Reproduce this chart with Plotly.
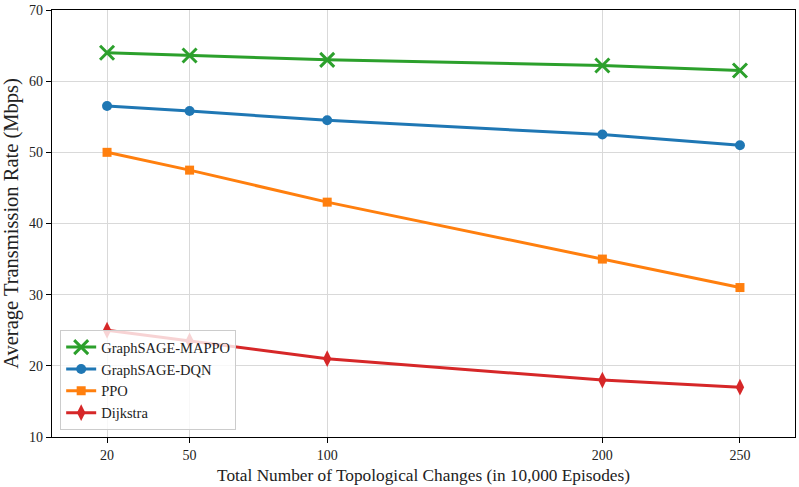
import plotly.graph_objects as go

x_vals = [20, 50, 100, 200, 250]
mappo = [64.0, 63.6, 63.0, 62.2, 61.5]
dqn = [56.5, 55.8, 54.5, 52.5, 51.0]
ppo = [50.0, 47.5, 43.0, 35.0, 31.0]
dijkstra = [25.0, 23.5, 21.0, 18.0, 17.0]
y_ticks = [10, 20, 30, 40, 50, 60, 70]

series = [
    ("GraphSAGE-MAPPO", mappo, "#2ca02c", "x-thin", 14),
    ("GraphSAGE-DQN", dqn, "#1f77b4", "circle", 10),
    ("PPO", ppo, "#ff7f0e", "square", 9),
    ("Dijkstra", dijkstra, "#d62728", "diamond-tall", 12),
]

fig = go.Figure()
for name, ys, color, sym, size in series:
    fig.add_trace(go.Scatter(
        x=x_vals, y=ys, name=name, mode="lines+markers",
        line=dict(color=color, width=3),
        marker=dict(symbol=sym, size=size, color=color,
                    line=dict(color=color, width=3 if sym == "x-thin" else 0)),
    ))

axis_common = dict(
    showline=True, linecolor="black", linewidth=1.2, mirror=True,
    ticks="outside", ticklen=5, tickcolor="black", tickwidth=1,
    showgrid=True, gridcolor="#d9d9d9", gridwidth=1, zeroline=False,
    tickfont=dict(family="Liberation Serif", size=14, color="#222"),
)

fig.update_layout(
    width=799, height=487,
    margin=dict(l=52, r=4, t=10, b=50),
    plot_bgcolor="white", paper_bgcolor="white",
    font=dict(family="Liberation Serif", color="#222"),
    xaxis=dict(range=[0, 270], tickvals=x_vals,
               title=dict(text="Total Number of Topological Changes (in 10,000 Episodes)",
                          font=dict(size=17.3), standoff=6),
               **axis_common),
    yaxis=dict(range=[10, 70], tickvals=y_ticks,
               title=dict(text="Average Transmission Rate (Mbps)",
                          font=dict(size=20.5), standoff=8),
               **axis_common),
    legend=dict(x=0.011, y=0.016, xanchor="left", yanchor="bottom",
                bgcolor="rgba(255,255,255,0.8)", bordercolor="#cccccc", borderwidth=1,
                font=dict(family="Liberation Serif", size=14.5, color="#222"),
                tracegroupgap=0, itemwidth=30),
    showlegend=True,
)

fig.write_html("out.html")
